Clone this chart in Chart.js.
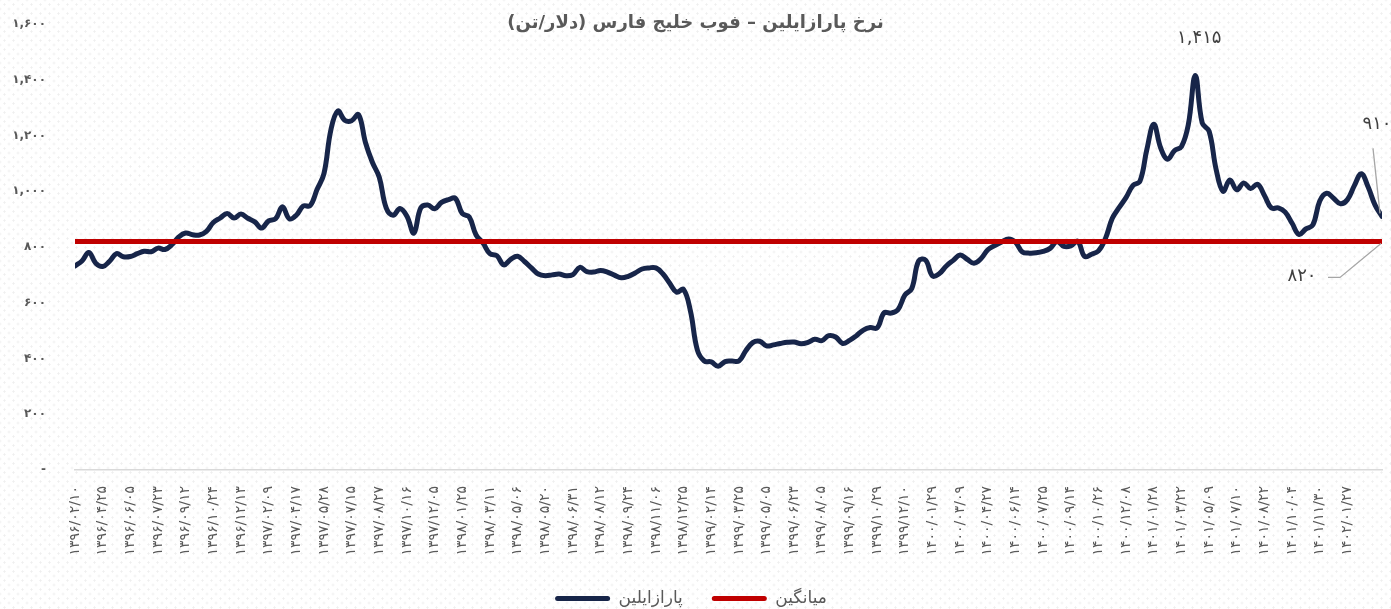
<!DOCTYPE html>
<html lang="fa">
<head>
<meta charset="utf-8">
<title>نرخ پارازایلین</title>
<script src="https://cdn.jsdelivr.net/npm/chart.js@4.4.1/dist/chart.umd.min.js"></script>
<style>
  html, body { margin: 0; padding: 0; }
  body {
    width: 1391px;
    height: 609px;
    overflow: hidden;
    background-color: #fff;
    background-image:
      radial-gradient(circle, #efefef 0.9px, transparent 1.3px),
      radial-gradient(circle, #efefef 0.9px, transparent 1.3px);
    background-size: 9px 9px;
    background-position: 0 0, 4.5px 4.5px;
  }
  #wrap { position: relative; width: 1391px; height: 609px; }
</style>
</head>
<body>
<div id="wrap"><canvas id="pxChart"></canvas></div>
<script>
// --- data ---
const chartTitle = 'نرخ پارازایلین – فوب خلیج فارس (دلار/تن)';
const seriesName = 'پارازایلین';
const averageName = 'میانگین';

// one x tick label every 4 points
const tickDates = [
  '1396/02/10', '1396/04/25', '1396/06/05', '1396/07/23', '1396/09/12', '1396/10/24',
  '1396/12/13', '1397/02/09', '1397/04/17', '1397/05/28', '1397/07/15', '1397/08/27',
  '1397/10/16', '1397/12/05', '1398/01/25', '1398/03/11', '1398/05/06', '1398/05/20',
  '1398/06/31', '1398/08/12', '1398/09/24', '1398/11/06', '1398/12/25', '1399/02/14',
  '1399/03/25', '1399/05/05', '1399/06/23', '1399/08/05', '1399/09/16', '1399/10/29',
  '1399/12/10', '1400/01/29', '1400/03/09', '1400/04/27', '1400/06/14', '1400/07/25',
  '1400/09/14', '1400/10/26', '1400/12/08', '1401/01/28', '1401/03/22', '1401/05/09',
  '1401/07/10', '1401/08/22', '1401/10/04', '1401/11/30', '1402/01/27'
];
const pointsPerTick = 4;

const paraxyleneValues = [
  732, 750, 780, 742, 730, 749, 776, 765, 766, 776,
  785, 783, 796, 791, 808, 836, 850, 844, 843, 856,
  888, 904, 920, 904, 918, 903, 890, 868, 894, 901,
  944, 901, 914, 947, 948, 1006, 1063, 1220, 1288, 1255,
  1253, 1275, 1175, 1104, 1050, 940, 914, 938, 910, 850,
  940, 951, 937, 960, 970, 975, 920, 908, 843, 814,
  776, 769, 736, 756, 767, 748, 725, 703, 697, 700,
  703, 697, 701, 727, 712, 710, 716, 710, 699, 690,
  695, 707, 721, 725, 725, 704, 670, 638, 648, 570,
  430, 391, 388, 372, 389, 391, 391, 428, 457, 462,
  445, 449, 454, 458, 459, 453, 458, 469, 464, 482,
  477, 454, 465, 482, 502, 511, 510, 564, 563, 575,
  627, 651, 750, 753, 696, 705, 732, 752, 771, 756,
  742, 758, 790, 805, 818, 829, 817, 782, 778, 779,
  784, 795, 820, 802, 804, 821, 766, 774, 786, 830,
  903, 942, 978, 1021, 1036, 1150, 1240, 1155, 1115, 1146,
  1160, 1240, 1415, 1245, 1215, 1080, 1000, 1040, 1005, 1030,
  1010, 1025, 985, 940, 940, 925, 885, 845, 865, 879,
  965, 993, 975, 955, 970, 1020, 1063, 1015, 950, 910
];
const averageValue = 820;
const peakIndex = 162;

const yMin = 0;
const yMax = 1600;
const yStep = 200;

// --- helpers ---
const FONT = "'DejaVu Sans', 'Noto Sans', sans-serif";
const faDigits = '۰۱۲۳۴۵۶۷۸۹';
const toFa = s => String(s).replace(/[0-9]/g, d => faDigits[d]);
const faNumber = v => toFa(v.toLocaleString('en-US'));
const lastIndex = paraxyleneValues.length - 1;

const NAVY = '#172549';
const RED = '#c00000';
const GREY = '#595959';

// title drawn right-to-left so the brackets mirror properly
const titlePlugin = {
  id: 'rtlTitle',
  afterDraw(chart) {
    const ctx = chart.ctx;
    ctx.save();
    ctx.direction = 'rtl';
    ctx.font = `bold 18px ${FONT}`;
    ctx.fillStyle = GREY;
    ctx.textAlign = 'center';
    ctx.textBaseline = 'middle';
    ctx.fillText(chartTitle, chart.width / 2, 23);
    ctx.restore();
  }
};

// value callouts: peak, last price and the average
const calloutPlugin = {
  id: 'callouts',
  afterDatasetsDraw(chart) {
    const { ctx, scales: { x, y } } = chart;
    const peakX = x.getPixelForValue(peakIndex);
    const peakY = y.getPixelForValue(paraxyleneValues[peakIndex]);
    const endX = x.getPixelForValue(lastIndex);
    const endY = y.getPixelForValue(paraxyleneValues[lastIndex]);
    const avgY = y.getPixelForValue(averageValue);

    ctx.save();
    ctx.font = `18px ${FONT}`;
    ctx.fillStyle = '#404040';
    ctx.textAlign = 'center';
    ctx.textBaseline = 'middle';
    ctx.fillText(faNumber(paraxyleneValues[peakIndex]), peakX + 4, peakY - 37);
    ctx.fillText(faNumber(paraxyleneValues[lastIndex]), endX - 5, endY - 92);
    ctx.fillText(faNumber(averageValue), endX - 80, avgY + 35);

    // leader lines
    ctx.strokeStyle = '#a6a6a6';
    ctx.lineWidth = 1.3;
    ctx.beginPath();
    ctx.moveTo(endX - 9, endY - 68);
    ctx.lineTo(endX - 2, endY - 3);
    ctx.stroke();
    ctx.beginPath();
    ctx.moveTo(endX - 54, avgY + 36);
    ctx.lineTo(endX - 42, avgY + 36);
    ctx.lineTo(endX - 1, avgY + 2);
    ctx.stroke();
    ctx.restore();
  }
};

// fixed legend height so the plot bottom sits where the reference has it
const legendSizePlugin = {
  id: 'legendSize',
  afterInit(chart) {
    const legend = chart.legend;
    if (legend) {
      const baseFit = legend.fit;
      legend.fit = function () {
        baseFit.call(this);
        this.height = 48;
      };
    }
  }
};

const ctx = document.getElementById('pxChart');
new Chart(ctx, {
  type: 'line',
  data: {
    datasets: [
      {
        label: seriesName,
        data: paraxyleneValues.map((v, i) => ({ x: i, y: v })),
        borderColor: NAVY,
        backgroundColor: NAVY,
        borderWidth: 5,
        pointRadius: 0,
        tension: 0.4,
        borderCapStyle: 'round',
        borderJoinStyle: 'round',
        order: 1
      },
      {
        label: averageName,
        data: [{ x: 0, y: averageValue }, { x: lastIndex, y: averageValue }],
        borderColor: RED,
        backgroundColor: RED,
        borderWidth: 5,
        pointRadius: 0,
        borderCapStyle: 'round',
        order: 0
      }
    ]
  },
  options: {
    responsive: true,
    maintainAspectRatio: false,
    animation: false,
    layout: { padding: { top: 24, right: 9, left: 0, bottom: 0 } },
    plugins: {
      title: { display: false },
      tooltip: { enabled: false },
      legend: {
        position: 'bottom',
        labels: {
          color: GREY,
          font: { family: FONT, size: 17 },
          boxWidth: 55,
          boxHeight: 5,
          padding: 29,
          useBorderRadius: true,
          borderRadius: 2.5,
          sort: (a, b) => a.datasetIndex - b.datasetIndex,
          generateLabels(chart) {
            const items = Chart.defaults.plugins.legend.labels.generateLabels(chart);
            return items.map(it => Object.assign(it, {
              fillStyle: it.strokeStyle,
              lineWidth: 0,
              borderRadius: 2.5
            }));
          }
        }
      }
    },
    scales: {
      x: {
        type: 'linear',
        min: 0,
        max: lastIndex,
        grid: { display: false, drawTicks: false },
        border: { display: true, color: '#d9d9d9', width: 1.5 },
        afterBuildTicks: scale => {
          scale.ticks = tickDates.map((d, k) => ({ value: k * pointsPerTick }));
        },
        ticks: {
          autoSkip: false,
          minRotation: 90,
          maxRotation: 90,
          padding: 16,
          color: GREY,
          font: { family: FONT, size: 14 },
          callback: (value, index) => toFa(tickDates[index] || '')
        },
        afterFit: scale => { scale.height = 91; }
      },
      y: {
        min: yMin,
        max: yMax,
        // tick marks hidden, their length only pushes the labels left
        grid: { display: false, drawTicks: true, tickLength: 26 },
        border: { display: false },
        ticks: {
          stepSize: yStep,
          padding: 3,
          color: GREY,
          font: { family: FONT, size: 12, weight: 'bold' },
          callback: v => (v === 0 ? '-' : faNumber(v))
        },
        afterFit: scale => { scale.width = 75; }
      }
    }
  },
  plugins: [titlePlugin, calloutPlugin, legendSizePlugin]
});
</script>
</body>
</html>
